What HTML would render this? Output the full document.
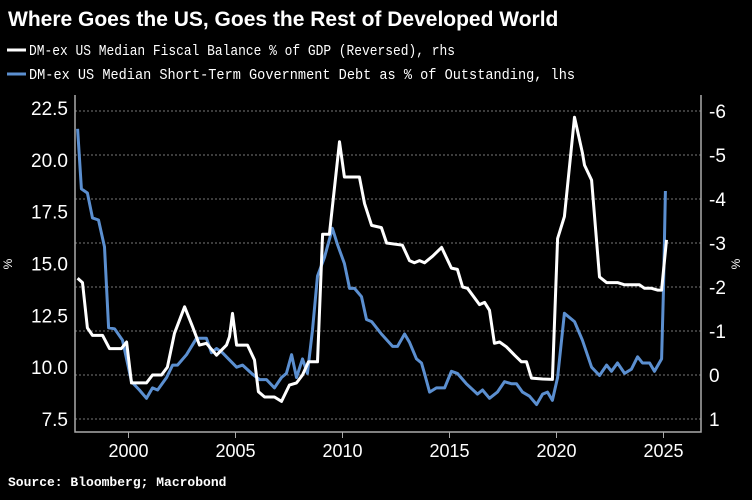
<!DOCTYPE html>
<html><head><meta charset="utf-8"><style>
body{margin:0;background:#000;width:752px;height:495px;overflow:hidden}
svg text{font-family:"Liberation Sans",sans-serif}
</style></head><body>
<svg id="chart" width="752" height="495">
<rect width="752" height="495" fill="#000"/>
<text x="8" y="26" fill="#fff" font-size="21" font-weight="bold">Where Goes the US, Goes the Rest of Developed World</text>
<g><line x1="7" y1="50" x2="26" y2="50" stroke="#fff" stroke-width="3"/><text x="29" y="55" fill="#fff" font-size="15" style="font-family:'Liberation Mono',monospace" textLength="426" lengthAdjust="spacingAndGlyphs">DM-ex US Median Fiscal Balance % of GDP (Reversed), rhs</text></g>
<g><line x1="7" y1="74" x2="26" y2="74" stroke="#5b8fd0" stroke-width="3"/><text x="29" y="79" fill="#fff" font-size="15" style="font-family:'Liberation Mono',monospace" textLength="546" lengthAdjust="spacingAndGlyphs">DM-ex US Median Short-Term Government Debt as % of Outstanding, lhs</text></g>
<g id="grid"></g><g id="axes"></g><g id="series"></g>
<text x="8" y="486" fill="#fff" font-size="13" font-weight="bold" style="font-family:'Liberation Mono',monospace">Source: Bloomberg; Macrobond</text>
</svg>
<script>
const leftTicks=[7.5,10.0,12.5,15.0,17.5,20.0,22.5];
const rightTicks=[1,0,-1,-2,-3,-4,-5,-6];
const xTicks=[2000,2005,2010,2015,2020,2025];
const debtYears=[1997.62,1997.80,1998.08,1998.32,1998.60,1998.88,1999.07,1999.35,1999.72,2000.14,2000.51,2000.84,2001.12,2001.36,2001.78,2002.06,2002.29,2002.71,2003.18,2003.64,2003.88,2004.11,2004.39,2005.05,2005.33,2005.75,2006.12,2006.45,2006.82,2007.15,2007.38,2007.62,2007.85,2008.13,2008.36,2008.60,2008.83,2009.16,2009.53,2009.77,2010.09,2010.33,2010.56,2010.89,2011.12,2011.36,2011.82,2012.34,2012.57,2012.90,2013.13,2013.46,2013.69,2013.83,2014.07,2014.39,2014.77,2015.09,2015.37,2015.79,2016.31,2016.54,2016.87,2017.24,2017.57,2017.90,2018.13,2018.41,2018.74,2019.07,2019.35,2019.58,2019.81,2020.05,2020.37,2020.84,2021.21,2021.64,2022.01,2022.34,2022.57,2022.85,2023.18,2023.50,2023.79,2024.02,2024.35,2024.58,2024.91,2025.00,2025.09];
const debtValues=[21.5,18.6,18.4,17.2,17.1,15.8,11.9,11.85,11.3,9.3,8.9,8.5,9.0,8.9,9.5,10.1,10.1,10.6,11.4,11.4,10.7,10.9,10.7,10.0,10.1,9.7,9.4,9.4,9.0,9.5,9.7,10.6,9.5,10.4,9.7,11.8,14.4,15.3,16.7,15.9,15.0,13.8,13.8,13.4,12.3,12.2,11.6,11.0,11.0,11.6,11.2,10.4,10.2,9.7,8.8,9.0,9.0,9.8,9.7,9.2,8.7,8.9,8.5,8.8,9.3,9.2,9.2,8.8,8.6,8.2,8.7,8.8,8.4,9.5,12.6,12.2,11.3,10.0,9.6,10.1,9.8,10.2,9.7,9.9,10.5,10.2,10.2,9.8,10.4,13.8,18.5];
const fiscalYears=[1997.62,1997.85,1998.08,1998.32,1998.79,1999.11,1999.67,1999.91,2000.14,2000.84,2001.12,2001.54,2001.82,2002.15,2002.62,2002.99,2003.32,2003.64,2004.11,2004.58,2004.72,2004.86,2005.05,2005.56,2005.89,2006.07,2006.36,2006.82,2007.15,2007.52,2007.85,2008.13,2008.41,2008.83,2009.07,2009.39,2009.86,2010.09,2010.79,2011.03,2011.36,2011.82,2012.06,2012.80,2013.13,2013.36,2013.60,2013.83,2014.21,2014.63,2015.09,2015.37,2015.61,2015.84,2016.40,2016.64,2016.87,2017.10,2017.34,2017.66,2018.04,2018.36,2018.60,2018.83,2019.35,2019.81,2020.05,2020.37,2020.84,2021.21,2021.31,2021.64,2022.01,2022.34,2022.85,2023.18,2023.88,2024.11,2024.44,2024.72,2024.91,2025.14];
const fiscalValues=[-2.2,-2.1,-1.07,-0.9,-0.9,-0.6,-0.6,-0.75,0.18,0.18,0,0,-0.18,-0.95,-1.55,-1.1,-0.68,-0.72,-0.45,-0.68,-0.87,-1.4,-0.68,-0.68,-0.34,0.38,0.5,0.5,0.6,0.23,0.18,0,-0.3,-0.3,-3.2,-3.2,-5.3,-4.5,-4.5,-3.9,-3.4,-3.35,-3.0,-2.95,-2.6,-2.55,-2.6,-2.55,-2.7,-2.9,-2.43,-2.4,-2.0,-1.97,-1.6,-1.65,-1.47,-0.72,-0.75,-0.64,-0.45,-0.3,-0.3,0.07,0.09,0.1,-3.1,-3.6,-5.86,-5.05,-4.77,-4.43,-2.23,-2.1,-2.1,-2.05,-2.05,-1.97,-1.97,-1.93,-1.93,-3.07];
const NS="http://www.w3.org/2000/svg";
const X0=75,X1=701,YT=95,YB=432;
const xs=y=>128.5+(y-2000)*21.4;
const yl=v=>419-(v-7.5)*20.73;
const yr=v=>375+v*44;
function mk(t,a,p){const e=document.createElementNS(NS,t);for(const k in a)e.setAttribute(k,a[k]);p.appendChild(e);return e;}
const grid=document.getElementById('grid'),axes=document.getElementById('axes'),ser=document.getElementById('series');
rightTicks.forEach(v=>{const l=mk('line',{x1:X0,x2:X1,y1:yr(v),y2:yr(v),stroke:'#777','stroke-width':1,'stroke-dasharray':'2,2'},grid);


const t=mk('text',{x:709,y:yr(v)+7,fill:'#fff','font-size':19},axes);t.textContent=(v<0?'-':'')+Math.abs(v);

});
leftTicks.forEach(v=>{const t=mk('text',{x:68,y:yl(v)+7,fill:'#fff','font-size':19,'text-anchor':'end'},axes);t.textContent=v.toFixed(1);

});
xTicks.forEach(v=>{mk('line',{x1:xs(v),x2:xs(v),y1:YB,y2:YB+6,stroke:'#aaa'},axes);
const t=mk('text',{x:xs(v),y:457,fill:'#fff','font-size':18,'text-anchor':'middle'},axes);t.textContent=v;

});
const la=mk('path',{d:`M${X0},${YT}V${YB}H${X1}V${YT}`,fill:'none',stroke:'#aaa','stroke-width':1.5},axes);


[[12,'left-axis-unit'],[740,'right-axis-unit']].forEach(([x,n])=>{const t=mk('text',{x:x,y:264,fill:'#fff','font-size':12,'text-anchor':'middle',transform:`rotate(-90 ${x} 264)`},axes);t.textContent='%';

});
const pd=(xa,ya,f)=>xa.map((x,i)=>(i?'L':'M')+xs(x).toFixed(1)+','+f(ya[i]).toFixed(1)).join('');
const p1=mk('path',{d:pd(debtYears,debtValues,yl),fill:'none',stroke:'#5b8fd0','stroke-width':3,'stroke-linejoin':'round'},ser);


const p2=mk('path',{d:pd(fiscalYears,fiscalValues,yr),fill:'none',stroke:'#fff','stroke-width':3,'stroke-linejoin':'round'},ser);


</script>
</body></html>
